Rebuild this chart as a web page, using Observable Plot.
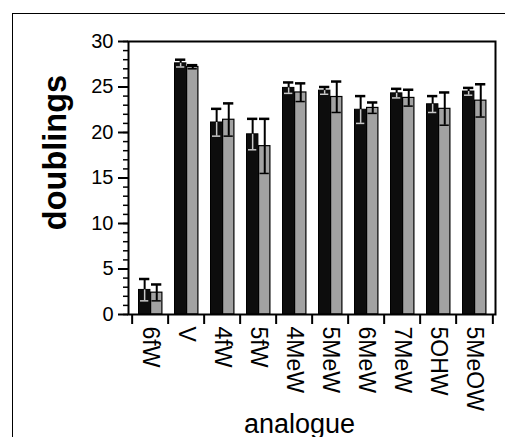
<!DOCTYPE html>
<html>
<head>
<meta charset="utf-8">
<script src="https://cdn.jsdelivr.net/npm/d3@7"></script>
<script src="https://cdn.jsdelivr.net/npm/@observablehq/plot@0.6"></script>
<style>
  html, body { margin: 0; padding: 0; background: #fff; }
  #wrap { position: relative; width: 505px; height: 437px; overflow: hidden; }
  #box { position: absolute; left: 12px; top: 13px; width: 600px; height: 600px;
         border-left: 1.5px solid #000; border-top: 1.5px solid #000; }
  #chart { position: absolute; left: 0; top: 0; }
</style>
</head>
<body>
<div id="wrap"><div id="box"></div><div id="chart"></div></div>
<script>
const analogues = ["6fW","V","4fW","5fW","4MeW","5MeW","6MeW","7MeW","5OHW","5MeOW"];
const blackValues = [2.7, 27.6, 21.1, 19.8, 24.9, 24.6, 22.5, 24.3, 23.1, 24.5];
const blackErrors = [1.2, 0.4, 1.5, 1.7, 0.6, 0.4, 1.5, 0.5, 0.9, 0.4];
const grayValues  = [2.4, 27.2, 21.4, 18.5, 24.4, 23.9, 22.7, 23.8, 22.6, 23.5];
const grayErrors  = [0.9, 0.2, 1.8, 3.0, 1.0, 1.7, 0.6, 0.9, 1.8, 1.8];
const yMajorTicks = [0, 5, 10, 15, 20, 25, 30];
const yMinorTicks = d3.range(0, 31, 1);
const yLabel = "doublings";
const xLabel = "analogue";

const blackData = analogues.map((a, i) => ({analogue: a, v: blackValues[i], e: blackErrors[i]}));
const grayData = analogues.map((a, i) => ({analogue: a, v: grayValues[i], e: grayErrors[i]}));

const BW = 367 / analogues.length;
const half = BW / 2;
const font = "'Liberation Sans', Arial, Helvetica, sans-serif";

const chart = Plot.plot({
  width: 505,
  height: 437,
  marginLeft: 128,
  marginRight: 10,
  marginTop: 41,
  marginBottom: 123,
  style: {fontFamily: font, color: "#000", background: "transparent", overflow: "visible"},
  x: {domain: analogues, padding: 0, axis: null, label: null},
  y: {domain: [0, 30], axis: null, label: null},
  marks: [
    // bars
    Plot.barY(blackData, {x: "analogue", y: "v", fill: "#0d0d0d", stroke: "#000", strokeWidth: 1, insetLeft: 6.5, insetRight: BW - 18.6}),
    Plot.barY(grayData, {x: "analogue", y: "v", fill: "#a2a2a2", stroke: "#000", strokeWidth: 1.2, insetLeft: 18.6, insetRight: BW - 30.6}),
    // black error bars (upper part)
    Plot.ruleX(blackData, {x: "analogue", y1: "v", y2: d => d.v + d.e, stroke: "#000", strokeWidth: 2, dx: 12.5 - half}),
    Plot.tickY(blackData, {x: "analogue", y: d => d.v + d.e, stroke: "#000", strokeWidth: 2.5, insetLeft: 7, insetRight: BW - 18}),
    // black error bars (lower part, light inside dark bar)
    Plot.ruleX(blackData, {x: "analogue", y1: d => d.v - d.e, y2: "v", stroke: "#c8c8c8", strokeWidth: 1.5, dx: 12.5 - half}),
    Plot.tickY(blackData, {x: "analogue", y: d => d.v - d.e, stroke: "#c8c8c8", strokeWidth: 1.5, insetLeft: 8, insetRight: BW - 17}),
    // gray error bars
    Plot.ruleX(grayData, {x: "analogue", y1: d => d.v - d.e, y2: d => d.v + d.e, stroke: "#000", strokeWidth: 2, dx: 24.6 - half}),
    Plot.tickY(grayData, {x: "analogue", y: d => d.v + d.e, stroke: "#000", strokeWidth: 2.5, insetLeft: 19, insetRight: BW - 30}),
    Plot.tickY(grayData, {x: "analogue", y: d => d.v - d.e, stroke: "#000", strokeWidth: 1.5, insetLeft: 19.5, insetRight: BW - 29.5}),
    // frame
    Plot.frame({stroke: "#000", strokeWidth: 2}),
    // y axis
    Plot.axisY({ticks: yMinorTicks, tickSize: 5, tickFormat: () => "", strokeWidth: 1.5, label: null}),
    Plot.axisY({ticks: yMajorTicks, tickSize: 10, tickPadding: 5, fontSize: 20, strokeWidth: 2, label: null}),
    // x axis: boundary ticks
    Plot.axisX({tickSize: 10, dx: -half, tickFormat: () => "", strokeWidth: 2, label: null}),
    Plot.axisX({ticks: [analogues[analogues.length - 1]], tickSize: 10, dx: half, tickFormat: () => "", strokeWidth: 2, label: null}),
    // x axis labels
    Plot.axisX({tickSize: 0, tickPadding: 12, tickRotate: 90, fontSize: 23, label: null}),
    // axis titles
    Plot.text([yLabel], {frameAnchor: "top-left", dx: 55 - 128, dy: 152 - 41, rotate: -90, text: d => d, textAnchor: "middle", lineAnchor: "middle", fontSize: 32.5, fontWeight: "bold", fill: "#000"}),
    Plot.text([xLabel], {frameAnchor: "bottom-left", dx: 299 - 128, dy: 118, text: d => d, textAnchor: "middle", lineAnchor: "bottom", fontSize: 27, fill: "#000"})
  ]
});
document.getElementById("chart").appendChild(chart);
</script>
</body>
</html>
